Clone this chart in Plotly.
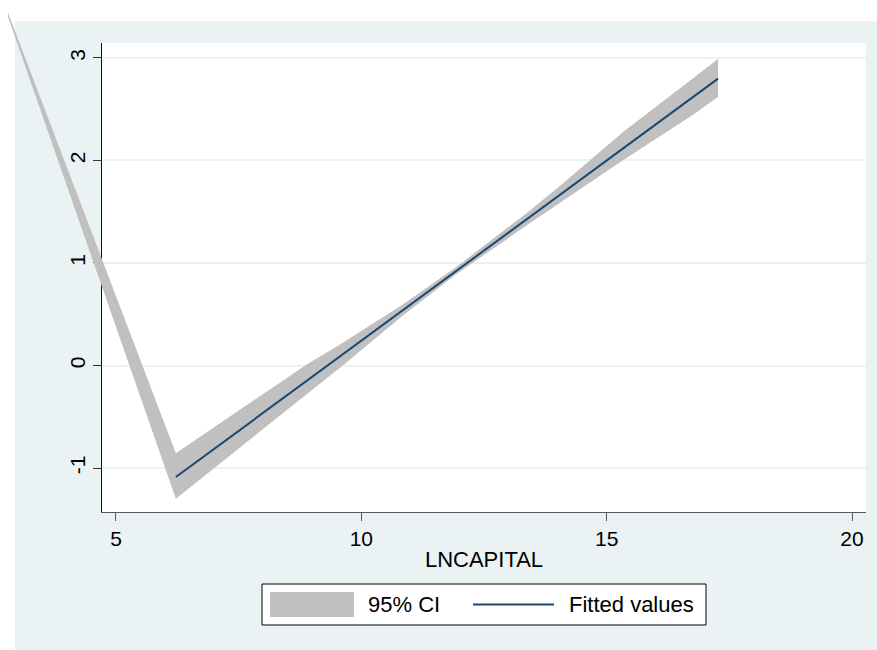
import plotly.graph_objects as go

W, H = 877, 650

# Linear fit of the outcome on LNCAPITAL: 95% confidence band and fitted line
ci_x = [2.80, 6.22, 8.87, 9.59, 10.83, 11.92, 13.38, 14.10, 15.34, 16.73, 17.27]
ci_upper = [3.44, -0.855, 0.005, 0.213, 0.590, 0.955, 1.491, 1.774, 2.281, 2.789, 2.99]
ci_lower = [3.40, -1.300, -0.286, -0.011, 0.480, 0.885, 1.371, 1.600, 2.005, 2.437, 2.62]
fit_x = [6.22, 17.27]
fit_y = [-1.088, 2.799]

x_ticks = [5, 10, 15, 20]
y_ticks = [-1, 0, 1, 2, 3]
x_title = "LNCAPITAL"
legend_labels = ["95% CI", "Fitted values"]

BAND = "#C0C0C0"
NAVY = "#1A476F"
OUTER_BG = "#EAF2F3"
GRID = "#EAF2F3"
FONT = "Liberation Sans, Arial, sans-serif"

# plot region (pixel bounds turned into paper fractions)
x_range = [4.715, 20.285]
y_range = [-1.429, 3.146]
x_dom = [102 / W, 866 / W]
y_dom = [(H - 512) / H, (H - 43) / H]


def outer_range(rng, dom, size):
    """Range of a full-page axis that keeps the same scale as the plot axis."""
    ppu = (dom[1] - dom[0]) * size / (rng[1] - rng[0])
    return [rng[0] - dom[0] * size / ppu, rng[1] + (1 - dom[1]) * size / ppu]


def px(xp, yp):
    return xp / W, 1 - yp / H


fig = go.Figure()

# anchor trace so the plot axes (grid, ticks, labels) get drawn
fig.add_trace(go.Scatter(
    x=fit_x, y=fit_y, mode="markers", marker=dict(opacity=0, size=1),
    xaxis="x", yaxis="y", hoverinfo="skip", showlegend=False,
))

# band polygon: upper edge left->right, lower edge right->left
# (drawn on full-page axes with the same scale so it is not clipped)
band_x = ci_x + ci_x[::-1]
band_y = ci_upper + ci_lower[::-1]
fig.add_trace(go.Scatter(
    x=band_x, y=band_y, mode="lines", fill="toself",
    fillcolor=BAND, line=dict(width=0, color=BAND),
    xaxis="x2", yaxis="y2", hoverinfo="skip", showlegend=False,
))
fig.add_trace(go.Scatter(
    x=fit_x, y=fit_y, mode="lines",
    line=dict(color=NAVY, width=2),
    xaxis="x2", yaxis="y2", showlegend=False,
))

shapes = []
# outer graph background
x0, y0 = px(15, 650)
x1, y1 = px(877, 21)
shapes.append(dict(type="rect", xref="paper", yref="paper", x0=x0, y0=y0, x1=x1, y1=y1,
                   fillcolor=OUTER_BG, line=dict(width=0), layer="below"))
# white plot region
shapes.append(dict(type="rect", xref="x domain", yref="y domain", x0=0, y0=0, x1=1, y1=1,
                   fillcolor="white", line=dict(width=0), layer="below"))

# legend box
lx0, ly0 = px(262, 625)
lx1, ly1 = px(706, 584)
shapes.append(dict(type="rect", xref="paper", yref="paper", x0=lx0, y0=ly0, x1=lx1, y1=ly1,
                   fillcolor="white", line=dict(color="black", width=1), layer="above"))
sx0, sy0 = px(270, 617)
sx1, sy1 = px(354, 592)
shapes.append(dict(type="rect", xref="paper", yref="paper", x0=sx0, y0=sy0, x1=sx1, y1=sy1,
                   fillcolor=BAND, line=dict(width=0), layer="above"))
mx0, my = px(473, 604.5)
mx1, _ = px(554, 604.5)
shapes.append(dict(type="line", xref="paper", yref="paper", x0=mx0, y0=my, x1=mx1, y1=my,
                   line=dict(color=NAVY, width=2), layer="above"))

t1x, ty = px(366, 604.5)
t2x, _ = px(567, 604.5)
annotations = [
    dict(text=legend_labels[0], x=t1x, y=ty, xref="paper", yref="paper",
         xanchor="left", yanchor="middle", showarrow=False,
         font=dict(family=FONT, size=22, color="black")),
    dict(text=legend_labels[1], x=t2x, y=ty, xref="paper", yref="paper",
         xanchor="left", yanchor="middle", showarrow=False,
         font=dict(family=FONT, size=22, color="black")),
]

fig.update_layout(
    width=W, height=H, autosize=False,
    margin=dict(l=0, r=0, t=0, b=0),
    paper_bgcolor="white",
    plot_bgcolor="rgba(0,0,0,0)",
    font=dict(family=FONT, color="black"),
    showlegend=False,
    shapes=shapes,
    annotations=annotations,
    xaxis=dict(
        domain=x_dom, range=x_range, anchor="y",
        tickmode="array", tickvals=x_ticks, ticktext=[str(v) for v in x_ticks],
        ticks="outside", ticklen=8, tickwidth=1, tickcolor="#5a5a5a",
        showline=True, linecolor="#5a5a5a", linewidth=1,
        showgrid=False, zeroline=False,
        tickfont=dict(family=FONT, size=21, color="black"),
        title=dict(text=x_title, font=dict(family=FONT, size=22, color="black"), standoff=2),
        automargin=False, fixedrange=True,
    ),
    yaxis=dict(
        domain=y_dom, range=y_range, anchor="x",
        tickmode="array", tickvals=y_ticks, ticktext=[str(v) for v in y_ticks],
        ticks="outside", ticklen=8, tickwidth=1, tickcolor="#333333",
        showline=True, linecolor="#111111", linewidth=1,
        showgrid=True, gridcolor=GRID, gridwidth=1.5, zeroline=False,
        tickangle=-90,
        tickfont=dict(family=FONT, size=21, color="black"),
        automargin=False, fixedrange=True,
    ),
    xaxis2=dict(
        domain=[0, 1], range=outer_range(x_range, x_dom, W), anchor="y2",
        visible=False, fixedrange=True,
    ),
    yaxis2=dict(
        domain=[0, 1], range=outer_range(y_range, y_dom, H), anchor="x2",
        visible=False, fixedrange=True,
    ),
)

fig.write_html("out.html", config={"displayModeBar": False})
